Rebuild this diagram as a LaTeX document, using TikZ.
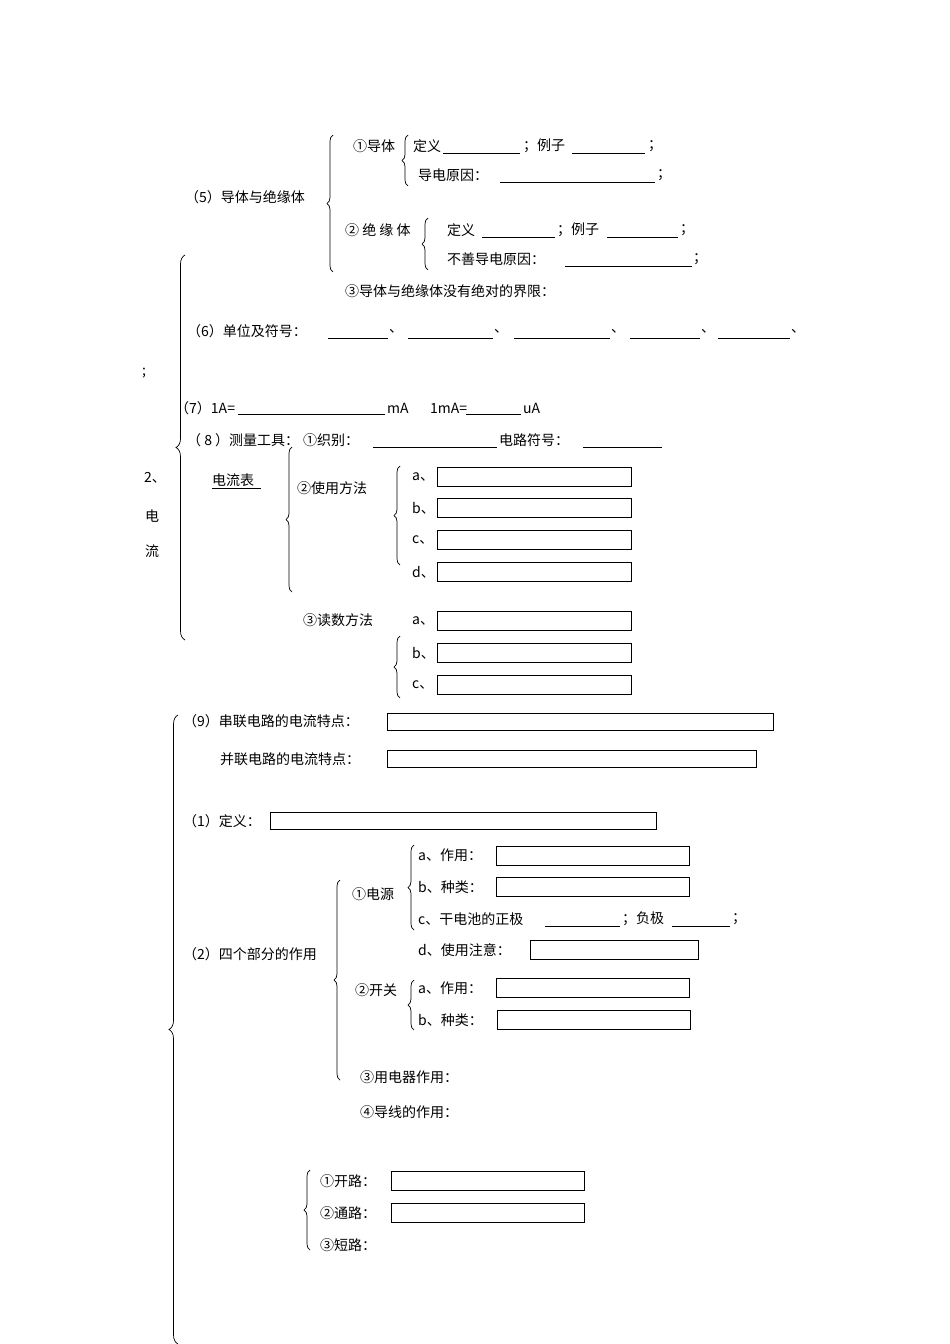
\documentclass[tikz,border=0pt]{standalone}
\usepackage{fontspec}
\setmainfont{Noto Sans CJK SC}
\usetikzlibrary{decorations.pathreplacing}
\begin{document}
\begin{tikzpicture}[x=1pt,y=-1pt,
  t/.style={anchor=west,inner sep=0pt,font=\fontsize{14}{16}\selectfont},
  br/.style={decorate,decoration={brace,amplitude=6pt},line width=0.7pt},
  bx/.style={draw,line width=0.6pt},
  ul/.style={line width=0.6pt}]
\useasboundingbox (0,0) rectangle (950,1344);
\fill[white] (0,0) rectangle (950,1344);
% (5)
\coordinate (b1a) at (333,272); \coordinate (b1b) at (333,135);
\draw[br] (b1a) -- (b1b);
\node[t] (n5) at (185,197) {（5）导体与绝缘体};
\node[t] (c1) at (353,146) {①导体};
\coordinate (b2a) at (408,186); \coordinate (b2b) at (408,135);
\draw[br] (b2a) -- (b2b);
\node[t] (d1) at (413,146) {定义};
\draw[ul] (443,153) -- (520,153);
\node[t] (e1) at (523,146) {；例子};
\draw[ul] (572,153) -- (645,153);
\node[t] (s1) at (648,146) {；};
\node[t] (r1) at (418,175) {导电原因：};
\draw[ul] (500,182) -- (655,182);
\node[t] (s2) at (657,175) {；};
\node[t] (c2) at (345,230) {② 绝 缘 体};
\coordinate (b3a) at (428,270); \coordinate (b3b) at (428,218);
\draw[br] (b3a) -- (b3b);
\node[t] (d2) at (447,230) {定义};
\draw[ul] (482,237) -- (555,237);
\node[t] (e2) at (557,230) {；例子};
\draw[ul] (607,237) -- (678,237);
\node[t] (s3) at (680,230) {；};
\node[t] (r2) at (447,259) {不善导电原因：};
\draw[ul] (565,266) -- (692,266);
\node[t] (s4) at (693,259) {；};
\node[t] (c3) at (345,291) {③导体与绝缘体没有绝对的界限：};
% big brace 2
\coordinate (bBa) at (185,640); \coordinate (bBb) at (185,255);
\draw[br,decoration={brace,amplitude=9pt}] (bBa) -- (bBb);
\node[t] (k1) at (142,373) {;};
\node[t] (k2) at (144,478) {2、};
\node[t] (k3) at (145,516) {电};
\node[t] (k4) at (145,551) {流};
\node[t] (n6) at (187,331) {（6）单位及符号：};
\foreach \a/\b in {328/388,408/493,514/610,630/700,718/790}{
  \draw[ul] (\a,338) -- (\b,338);
  \node[t] at (\b+1,331) {、};}
\node[t] (n7) at (175,408) {（7）1A=};
\draw[ul] (238,414) -- (385,414);
\node[t] (m1) at (387,408) {mA};
\node[t] (m2) at (430,408) {1mA=};
\draw[ul] (466,414) -- (521,414);
\node[t] (m3) at (523,408) {uA};
\node[t] (n8) at (187,440) {（ 8 ）测量工具：};
\node[t] (z1) at (303,440) {①织别：};
\draw[ul] (373,447) -- (497,447);
\node[t] (z2) at (499,440) {电路符号：};
\draw[ul] (583,447) -- (662,447);
\node[t] (am) at (212,480) {电流表};
\draw[ul] (am.south west)++(0,2) -- ++(49,0);
\coordinate (b4a) at (292,592); \coordinate (b4b) at (292,447);
\draw[br] (b4a) -- (b4b);
\node[t] (u1) at (297,488) {②使用方法};
\coordinate (b5a) at (400,565); \coordinate (b5b) at (400,466);
\draw[br] (b5a) -- (b5b);
\foreach \l/\y in {a/477,b/508,c/540,d/572}{
  \node[t] at (412,\y) {\l、};
  \draw[bx] (437,\y-10) rectangle (631,\y+9);}
\node[t] (u3) at (303,620) {③读数方法};
\coordinate (b6a) at (400,698); \coordinate (b6b) at (400,636);
\draw[br] (b6a) -- (b6b);
\foreach \l/\y in {a/621,b/653,c/685}{
  \node[t] at (412,\y) {\l、};
  \draw[bx] (437,\y-10) rectangle (631,\y+9);}
% big brace 3
\coordinate (bCa) at (178,1344); \coordinate (bCb) at (178,715);
\draw[br,decoration={brace,amplitude=9pt}] (bCa) -- (bCb);
\node[t] (n9) at (183,721) {（9）串联电路的电流特点：};
\draw[bx] (387,713) rectangle (773,730);
\node[t] (n9b) at (220,759) {并联电路的电流特点：};
\draw[bx] (387,750) rectangle (756,767);
\node[t] (p1) at (183,821) {（1）定义：};
\draw[bx] (270,812) rectangle (656,829);
\node[t] (p2) at (183,954) {（2）四个部分的作用};
\coordinate (b7a) at (340,1080); \coordinate (b7b) at (340,880);
\draw[br] (b7a) -- (b7b);
\node[t] (q1) at (352,894) {①电源};
\coordinate (b8a) at (414,930); \coordinate (b8b) at (414,845);
\draw[br] (b8a) -- (b8b);
\node[t] at (418,855) {a、作用：};
\draw[bx] (496,846) rectangle (689,865);
\node[t] at (418,887) {b、种类：};
\draw[bx] (496,877) rectangle (689,896);
\node[t] at (418,919) {c、干电池的正极};
\draw[ul] (545,926) -- (620,926);
\node[t] at (622,919) {；负极};
\draw[ul] (672,926) -- (730,926);
\node[t] at (732,919) {；};
\node[t] at (418,950) {d、使用注意：};
\draw[bx] (530,940) rectangle (698,959);
\node[t] (q2) at (355,990) {②开关};
\coordinate (b9a) at (414,1030); \coordinate (b9b) at (414,980);
\draw[br] (b9a) -- (b9b);
\node[t] at (418,988) {a、作用：};
\draw[bx] (496,978) rectangle (689,997);
\node[t] at (418,1020) {b、种类：};
\draw[bx] (497,1010) rectangle (690,1029);
\node[t] (q3) at (360,1077) {③用电器作用：};
\node[t] (q4) at (360,1112) {④导线的作用：};
\coordinate (b10a) at (310,1250); \coordinate (b10b) at (310,1170);
\draw[br] (b10a) -- (b10b);
\node[t] at (320,1181) {①开路：};
\draw[bx] (391,1171) rectangle (584,1190);
\node[t] at (320,1213) {②通路：};
\draw[bx] (391,1203) rectangle (584,1222);
\node[t] at (320,1245) {③短路：};
\end{tikzpicture}
\end{document}
